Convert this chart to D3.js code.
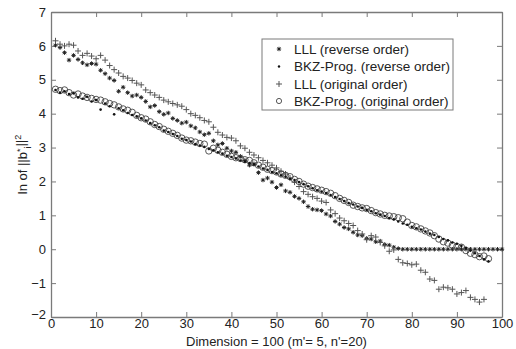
<!DOCTYPE html>
<html>
<head>
<meta charset="utf-8">
<script src="https://cdn.jsdelivr.net/npm/d3@7"></script>
<style>
  html, body { margin: 0; padding: 0; background: #fff; }
  svg { display: block; font-family: "Liberation Sans", Arial, sans-serif; }
</style>
</head>
<body>
<svg id="chart" width="516" height="349"></svg>
<script>
// ---- data ----
const xTicks = [0, 10, 20, 30, 40, 50, 60, 70, 80, 90, 100];
const yTicks = [-2, -1, 0, 1, 2, 3, 4, 5, 6, 7];

const seriesNames = [
  "LLL (reverse order)",
  "BKZ-Prog. (reverse order)",
  "LLL (original order)",
  "BKZ-Prog. (original order)"
];

// LLL, reverse order: dims 1..100
const lllReverse = [
  6.02, 5.95, 5.80, 5.58, 5.72, 5.60, 5.50, 5.44, 5.48, 5.46,
  5.28, 5.18, 5.05, 4.98, 4.66, 4.78, 4.62, 4.52, 4.55, 4.48,
  4.36, 4.20, 4.24, 4.06, 3.98, 4.02, 3.86, 3.80, 3.72, 3.75,
  3.64, 3.58, 3.46, 3.38, 3.42, 3.20, 3.08, 3.12, 2.98, 2.90,
  2.86, 2.74, 2.62, 2.48, 2.52, 2.26, 2.04, 2.10, 1.98, 1.82,
  1.90, 1.72, 1.68, 1.56, 1.50, 1.40, 1.26, 1.18, 1.16, 1.14,
  1.04, 0.98, 0.82, 0.74, 0.64, 0.60, 0.50, 0.42, 0.40, 0.32,
  0.30, 0.22, 0.24, 0.14, 0.12, 0.06, 0.02, 0, 0, 0,
  0, 0, 0, 0, 0, 0, 0, 0, 0, 0,
  0, 0, 0, 0, 0, 0, 0, 0, 0, 0
];

// BKZ-Prog., reverse order: dims 1..97
const bkzReverse = [
  4.70, 4.62, 4.66, 4.58, 4.60, 4.48, 4.44, 4.50, 4.36, 4.40,
  4.12, 4.30, 4.22, 3.98, 4.16, 4.10, 4.02, 3.96, 3.92, 3.86,
  3.80, 3.72, 3.66, 3.60, 3.50, 3.46, 3.40, 3.34, 3.26, 3.22,
  3.18, 3.10, 3.06, 3.02, 2.96, 2.92, 2.86, 2.82, 2.76, 2.72,
  2.68, 2.62, 2.58, 2.54, 2.50, 2.44, 2.38, 2.34, 2.28, 2.24,
  2.18, 2.14, 2.08, 2.04, 1.98, 1.92, 1.86, 1.80, 1.74, 1.70,
  1.66, 1.60, 1.54, 1.48, 1.42, 1.36, 1.32, 1.26, 1.22, 1.16,
  1.12, 1.06, 1.02, 0.98, 0.92, 0.88, 0.82, 0.76, 0.72, 0.66,
  0.62, 0.58, 0.52, 0.46, 0.42, 0.36, 0.30, 0.26, 0.20, 0.16,
  0.10, 0.04, -0.04, -0.12, -0.20, -0.30, -0.36
];

// LLL, original order: dims 1..96
const lllOriginal = [
  6.15, 6.05, 6.00, 6.05, 6.02, 5.85, 5.72, 5.78, 5.70, 5.62,
  5.72, 5.58, 5.42, 5.30, 5.20, 5.10, 5.05, 4.98, 4.90, 4.85,
  4.70, 4.62, 4.55, 4.48, 4.40, 4.35, 4.30, 4.26, 4.22, 4.12,
  4.00, 3.95, 3.88, 3.80, 3.76, 3.60, 3.45, 3.37, 3.30, 3.28,
  3.20, 3.05, 2.98, 2.86, 2.78, 2.70, 2.62, 2.55, 2.48, 2.40,
  2.30, 2.22, 2.10, 1.98, 1.85, 1.70, 1.62, 1.55, 1.50, 1.42,
  1.38, 1.16, 1.05, 0.92, 0.84, 0.76, 0.70, 0.55, 0.45, 0.28,
  0.40, 0.36, 0.20, 0.10, -0.06, -0.02, -0.30, -0.40, -0.42, -0.46,
  -0.44, -0.62, -0.68, -0.88, -0.92, -1.18, -1.12, -1.14, -1.18, -1.32,
  -1.28, -1.22, -1.42, -1.48, -1.56, -1.48
];

// BKZ-Prog., original order: dims 1..97
const bkzOriginal = [
  4.72, 4.68, 4.70, 4.62, 4.55, 4.58, 4.52, 4.48, 4.45, 4.42,
  4.40, 4.35, 4.30, 4.26, 4.20, 4.14, 4.10, 4.04, 3.95, 3.88,
  3.84, 3.76, 3.68, 3.62, 3.54, 3.48, 3.42, 3.36, 3.28, 3.22,
  3.20, 3.16, 3.12, 3.10, 2.90, 2.98, 2.92, 2.86, 2.80, 2.74,
  2.70, 2.68, 2.64, 2.62, 2.55, 2.48, 2.42, 2.36, 2.32, 2.28,
  2.22, 2.18, 2.14, 2.06, 2.00, 1.92, 1.86, 1.82, 1.78, 1.74,
  1.70, 1.65, 1.58, 1.50, 1.44, 1.38, 1.30, 1.26, 1.22, 1.20,
  1.14, 1.08, 1.04, 1.00, 0.98, 0.96, 0.93, 0.90, 0.80, 0.70,
  0.66, 0.60, 0.54, 0.48, 0.40, 0.30, 0.22, 0.18, 0.12, 0.08,
  0.06, -0.04, -0.12, -0.16, -0.22, -0.20, -0.28
];

// ---- layout ----
const margin = { top: 12, right: 14, bottom: 32, left: 51 };
const width = 516, height = 349;
const svg = d3.select("#chart");

const x = d3.scaleLinear().domain([0, 100]).range([margin.left, width - margin.right]);
const y = d3.scaleLinear().domain([-2, 7]).range([height - margin.bottom, margin.top]);

const frameColor = "#7a7a7a";
const textColor = "#222";

// axes, ticks pointing inwards on all four sides
const axisB = svg.append("g")
  .attr("transform", `translate(0,${y(-2)})`)
  .call(d3.axisBottom(x).tickValues(xTicks).tickSizeInner(-5).tickSizeOuter(0).tickPadding(3));
const axisL = svg.append("g")
  .attr("transform", `translate(${x(0)},0)`)
  .call(d3.axisLeft(y).tickValues(yTicks).tickSizeInner(-5).tickSizeOuter(0).tickPadding(5));
const axisT = svg.append("g")
  .attr("transform", `translate(0,${y(7)})`)
  .call(d3.axisTop(x).tickValues(xTicks).tickSizeInner(-5).tickSizeOuter(0).tickFormat(""));
const axisR = svg.append("g")
  .attr("transform", `translate(${x(100)},0)`)
  .call(d3.axisRight(y).tickValues(yTicks).tickSizeInner(-5).tickSizeOuter(0).tickFormat(""));

[axisB, axisL, axisT, axisR].forEach(a => {
  a.selectAll("path").attr("stroke", frameColor).attr("stroke-width", 1.3);
  a.selectAll("line").attr("stroke", frameColor).attr("stroke-width", 1);
  a.selectAll("text")
    .attr("fill", textColor)
    .style("font-family", "'Liberation Sans', Arial, sans-serif")
    .style("font-size", "13px");
});
axisB.selectAll("text").attr("dy", "0.6em");
// the -2 label sits a bit lower in the original
axisL.selectAll("text").filter(d => d === -2).attr("dy", "0.15em");

// ---- markers ----
const plot = svg.append("g");

function pts(values) { return values.map((v, i) => ({ d: i + 1, v: v })); }

// LLL reverse: asterisk
const astr = 2.2;
const astPath = `M${-astr},0H${astr}M0,${-astr}V${astr}M${-astr*0.7},${-astr*0.7}L${astr*0.7},${astr*0.7}M${-astr*0.7},${astr*0.7}L${astr*0.7},${-astr*0.7}`;
plot.append("g").selectAll("path").data(pts(lllReverse)).enter()
  .append("path")
    .attr("transform", p => `translate(${x(p.d)},${y(p.v)})`)
    .attr("d", astPath)
    .attr("stroke", "#222")
    .attr("stroke-width", 1)
    .attr("fill", "none");

// LLL original: plus
const pl = 3;
plot.append("g").selectAll("path").data(pts(lllOriginal)).enter()
  .append("path")
    .attr("transform", p => `translate(${x(p.d)},${y(p.v)})`)
    .attr("d", `M${-pl},0H${pl}M0,${-pl}V${pl}`)
    .attr("stroke", "#555")
    .attr("stroke-width", 1)
    .attr("fill", "none");

// BKZ original: open circle
plot.append("g").selectAll("circle").data(pts(bkzOriginal)).enter()
  .append("circle")
    .attr("cx", p => x(p.d))
    .attr("cy", p => y(p.v))
    .attr("r", 3.2)
    .attr("fill", "none")
    .attr("stroke", "#444")
    .attr("stroke-width", 0.9);

// BKZ reverse: small dot
plot.append("g").selectAll("circle").data(pts(bkzReverse)).enter()
  .append("circle")
    .attr("cx", p => x(p.d))
    .attr("cy", p => y(p.v))
    .attr("r", 1.3)
    .attr("fill", "#111");

// ---- axis titles ----
svg.append("text")
  .attr("x", (x(0) + x(100)) / 2)
  .attr("y", 345.5)
  .attr("text-anchor", "middle")
  .attr("fill", textColor)
  .style("font-size", "13px")
  .text("Dimension = 100 (m'= 5, n'=20)");

const yl = svg.append("text")
  .attr("transform", `translate(27,${(y(-2) + y(7)) / 2}) rotate(-90)`)
  .attr("text-anchor", "middle")
  .attr("fill", textColor)
  .style("font-size", "13px");
yl.append("tspan").text("ln of ||b");
yl.append("tspan").attr("dy", "-0.4em").style("font-size", "9px").text("*");
yl.append("tspan").attr("dy", "0.8em").style("font-size", "9px").text("i");
yl.append("tspan").attr("dy", "-0.4em").text("||");
yl.append("tspan").attr("dy", "-0.5em").style("font-size", "9px").text("2");

// ---- legend ----
const lg = svg.append("g").attr("transform", "translate(262,39)");
lg.append("rect")
  .attr("width", 191).attr("height", 71)
  .attr("fill", "#fff")
  .attr("stroke", frameColor)
  .attr("stroke-width", 1);

const rowY = [10, 27.5, 45, 62];
const lgRows = lg.selectAll("g.row").data(seriesNames).enter()
  .append("g")
    .attr("class", "row")
    .attr("transform", (d, i) => `translate(17,${rowY[i]})`);

lgRows.append("text")
  .attr("x", 15)
  .attr("dy", "0.35em")
  .attr("fill", textColor)
  .style("font-size", "13.5px")
  .text(d => d);

lgRows.each(function(d, i) {
  const g = d3.select(this);
  if (i === 0) {
    g.append("path").attr("d", astPath)
      .attr("stroke", "#222").attr("stroke-width", 1);
  } else if (i === 1) {
    g.append("circle").attr("r", 1.2).attr("fill", "#111");
  } else if (i === 2) {
    g.append("path").attr("d", `M${-pl},0H${pl}M0,${-pl}V${pl}`)
      .attr("stroke", "#555").attr("stroke-width", 1);
  } else {
    g.append("circle").attr("r", 2.6).attr("fill", "none")
      .attr("stroke", "#444").attr("stroke-width", 0.9);
  }
});
</script>
</body>
</html>
